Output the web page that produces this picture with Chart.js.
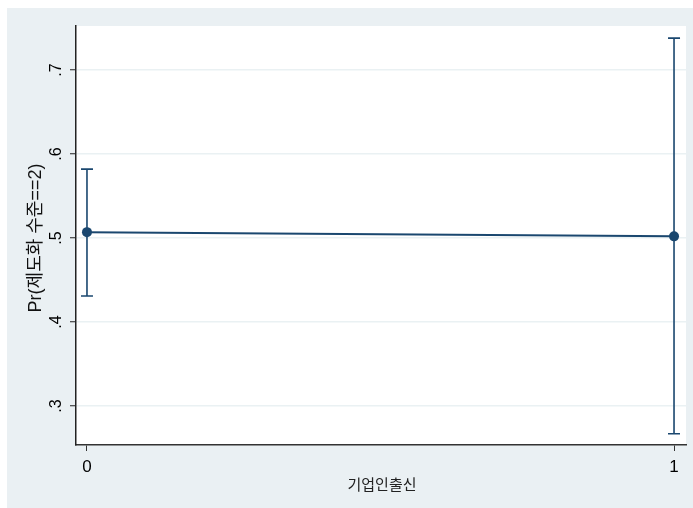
<!DOCTYPE html>
<html>
<head>
<meta charset="utf-8">
<script src="https://cdn.jsdelivr.net/npm/chart.js@4"></script>
<style>
  html, body { margin: 0; padding: 0; background: #ffffff; }
  #wrap { width: 693px; height: 508px; }
</style>
</head>
<body>
<div id="wrap"><canvas id="margins" width="693" height="508"></canvas></div>
<script>
// predicted probability with 95% CI
var categories = [0, 1];
var margins = [0.507, 0.502];
var ciLower = [0.431, 0.267];
var ciUpper = [0.582, 0.738];
var yTicks = [0.3, 0.4, 0.5, 0.6, 0.7];
var yTickLabels = [".3", ".4", ".5", ".6", ".7"];
var xTitle = "기업인출신";
var yTitle = "Pr(제도화 수준==2)";

var navy = "#1a476f";
var outerBg = "#eaf0f3";

var backdrop = {
  id: "backdrop",
  beforeDraw: function (chart) {
    var ctx = chart.ctx;
    var a = chart.chartArea;
    ctx.save();
    ctx.fillStyle = outerBg;
    ctx.fillRect(7, 8, chart.width - 7, chart.height - 8);
    ctx.fillStyle = "#ffffff";
    ctx.fillRect(a.left, a.top, a.right - a.left, a.bottom - a.top);
    ctx.restore();
  }
};

var errorBars = {
  id: "errorBars",
  beforeDatasetsDraw: function (chart) {
    var ctx = chart.ctx;
    var xs = chart.scales.x, ys = chart.scales.y;
    ctx.save();
    ctx.strokeStyle = navy;
    ctx.lineWidth = 1.6;
    categories.forEach(function (c, i) {
      var px = xs.getPixelForValue(c);
      var top = ys.getPixelForValue(ciUpper[i]);
      var bot = ys.getPixelForValue(ciLower[i]);
      ctx.beginPath();
      ctx.moveTo(px, top); ctx.lineTo(px, bot);
      ctx.moveTo(px - 6, top); ctx.lineTo(px + 6, top);
      ctx.moveTo(px - 6, bot); ctx.lineTo(px + 6, bot);
      ctx.stroke();
    });
    ctx.restore();
  }
};

var axisText = {
  id: "axisText",
  afterDraw: function (chart) {
    var ctx = chart.ctx;
    var xs = chart.scales.x, ys = chart.scales.y;
    ctx.save();
    ctx.fillStyle = "#000000";
    ctx.textAlign = "center";
    ctx.textBaseline = "middle";
    // rotated y tick labels
    ctx.font = "16px 'Liberation Sans', Arial, sans-serif";
    yTicks.forEach(function (v, i) {
      ctx.save();
      ctx.translate(57, ys.getPixelForValue(v));
      ctx.rotate(-Math.PI / 2);
      ctx.fillText(yTickLabels[i], 0, 0);
      ctx.restore();
    });
    // x tick labels
    ctx.font = "17px 'Liberation Sans', Arial, sans-serif";
    categories.forEach(function (c) {
      ctx.fillText(String(c), xs.getPixelForValue(c), 467);
    });
    // titles
    ctx.fillStyle = "#222222";
    ctx.font = "15px 'Noto Sans CJK KR', 'Liberation Sans', sans-serif";
    ctx.fillText(xTitle, (chart.chartArea.left + chart.chartArea.right) / 2 + 1, 484);
    ctx.fillStyle = "#111111";
    ctx.font = "18px 'Liberation Sans', 'Noto Sans CJK KR', sans-serif";
    ctx.save();
    ctx.translate(36, 238);
    ctx.rotate(-Math.PI / 2);
    ctx.fillText(yTitle, 0, 0);
    ctx.restore();
    ctx.restore();
  }
};

var ctx = document.getElementById("margins").getContext("2d");
var chart = new Chart(ctx, {
  type: "line",
  data: {
    datasets: [
      {
        data: categories.map(function (c, i) { return { x: c, y: margins[i] }; }),
        borderColor: navy,
        backgroundColor: navy,
        borderWidth: 2,
        pointRadius: 5,
        pointBorderWidth: 0,
        pointHoverRadius: 5,
        tension: 0
      }
    ]
  },
  plugins: [backdrop, errorBars, axisText],
  options: {
    responsive: false,
    animation: false,
    events: [],
    layout: { padding: { left: 0, top: 26, right: 7, bottom: 0 } },
    plugins: { legend: { display: false }, tooltip: { enabled: false } },
    scales: {
      x: {
        type: "linear",
        min: -0.0187,
        max: 1.0204,
        afterBuildTicks: function (s) { s.ticks = categories.map(function (c) { return { value: c }; }); },
        afterFit: function (s) { s.height = 63; },
        ticks: { display: false },
        grid: { drawOnChartArea: false, tickLength: 6, tickColor: "#333333", tickWidth: 1 },
        border: { color: "#333333", width: 1.5 }
      },
      y: {
        type: "linear",
        min: 0.2536,
        max: 0.7524,
        afterBuildTicks: function (s) { s.ticks = yTicks.map(function (v) { return { value: v }; }); },
        afterFit: function (s) { s.width = 76; },
        ticks: { display: false },
        grid: { color: "#eaf1f3", lineWidth: 1.5, tickLength: 6, tickColor: "#222222", tickWidth: 1 },
        border: { color: "#222222", width: 1.5 }
      }
    }
  }
});
</script>
</body>
</html>
